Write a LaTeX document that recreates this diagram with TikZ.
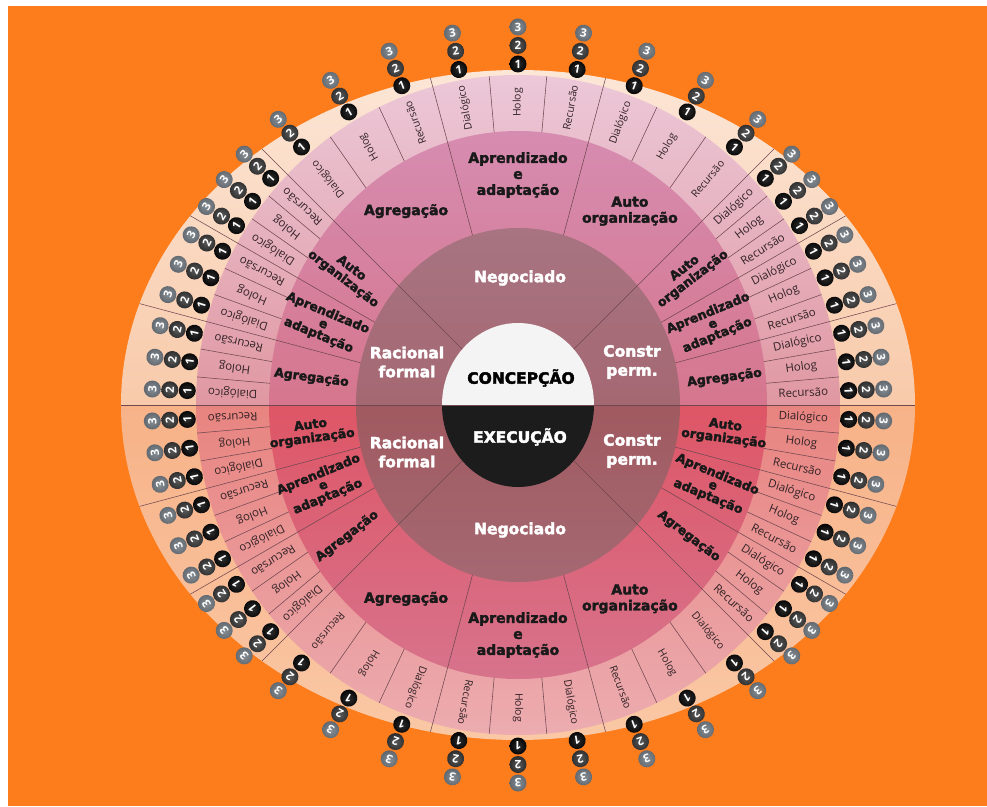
\documentclass[tikz,border=0pt]{standalone}
\usepackage{fontspec}
\newfontfamily\labfont{Open Sans}
\newfontfamily\heavyfont{DejaVu Sans}[BoldFeatures={FakeBold=2.5}]
\definecolor{bgorange}{RGB}{253,125,28}
\definecolor{creamtop}{RGB}{252,230,214}
\definecolor{creamside}{RGB}{248,202,170}
\definecolor{creamlow}{RGB}{247,178,136}
\definecolor{creambot}{RGB}{250,200,165}
\definecolor{labtop}{RGB}{236,200,216}
\definecolor{labside}{RGB}{224,152,162}
\definecolor{lablow}{RGB}{232,132,128}
\definecolor{labbot}{RGB}{236,172,176}
\definecolor{midtop}{RGB}{214,140,176}
\definecolor{midside}{RGB}{214,118,142}
\definecolor{midlow}{RGB}{222,86,102}
\definecolor{midbot}{RGB}{215,115,140}
\definecolor{inntop}{RGB}{168,116,130}
\definecolor{innside}{RGB}{164,104,114}
\definecolor{innlow}{RGB}{160,90,96}
\definecolor{innbot}{RGB}{165,104,114}
\definecolor{discwhite}{RGB}{244,244,244}
\definecolor{discblack}{RGB}{28,28,28}
\definecolor{sepline}{RGB}{112,72,80}
\definecolor{labtext}{RGB}{50,34,38}
\definecolor{bin1}{RGB}{45,45,45}
\definecolor{bout1}{RGB}{5,5,5}
\definecolor{bin2}{RGB}{90,90,90}
\definecolor{bout2}{RGB}{45,45,45}
\definecolor{bin3}{RGB}{135,142,148}
\definecolor{bout3}{RGB}{96,103,110}
\begin{document}
\begin{tikzpicture}[x=100pt,y=100pt,
  declare function={er(\ang,\rx,\ry)=\rx*\ry/sqrt((\ry*cos(\ang))^2+(\rx*sin(\ang))^2);},
  sep/.style={draw=sepline,line width=0.55pt},
  badge/.style={circle,minimum size=17pt,inner sep=0pt,text=white,
    font=\labfont\bfseries\fontsize{11.5}{11.5}\selectfont},
  innerlab/.style={text=white,align=center,inner sep=0pt,
    font=\heavyfont\bfseries\fontsize{15.5}{19}\selectfont}]
\useasboundingbox (-5.18,-4.01) rectangle (4.69,4.05);
\fill[white] (-5.18,-4.01) rectangle (4.69,4.05);
\fill[bgorange] (-5.10,-4.01) rectangle (4.69,3.99);
% cream ellipse
\shade[top color=creamtop,bottom color=creamside] (3.97,0) arc[start angle=0,end angle=180,x radius=3.97,y radius=3.35] -- cycle;
\shade[top color=creamlow,bottom color=creambot] (3.97,0) arc[start angle=0,end angle=-180,x radius=3.97,y radius=3.35] -- cycle;
% label ring
\shade[top color=labtop,bottom color=labside] (3.22,0) arc[start angle=0,end angle=180,x radius=3.22,y radius=3.30] -- cycle;
\shade[top color=lablow,bottom color=labbot] (3.22,0) arc[start angle=0,end angle=-180,x radius=3.22,y radius=3.30] -- cycle;
% middle ring
\shade[top color=midtop,bottom color=midside] (2.49,0) arc[start angle=0,end angle=180,x radius=2.49,y radius=2.74] -- cycle;
\shade[top color=midlow,bottom color=midbot] (2.49,0) arc[start angle=0,end angle=-180,x radius=2.49,y radius=2.74] -- cycle;
% inner ring
\shade[top color=inntop,bottom color=innside] (1.62,0) arc[start angle=0,end angle=180,x radius=1.62,y radius=1.77] -- cycle;
\shade[top color=innlow,bottom color=innbot] (1.62,0) arc[start angle=0,end angle=-180,x radius=1.62,y radius=1.77] -- cycle;
% centre disc
\fill[discwhite] (0.76,0) arc[start angle=0,end angle=180,x radius=0.76,y radius=0.82] -- cycle;
\fill[discblack] (0.76,0) arc[start angle=0,end angle=-180,x radius=0.76,y radius=0.82] -- cycle;
% separators
\draw[sep] (-3.97,0) -- (3.97,0);
\foreach \a in {45,135,225,315}{
  \pgfmathsetmacro\ri{er(\a,0.76,0.82)}
  \pgfmathsetmacro\ro{er(\a,3.97,3.35)}
  \draw[sep] (\a:\ri) -- (\a:\ro);
}
\foreach \a in {15,30,75,105,150,165,195,210,255,285,330,345}{
  \pgfmathsetmacro\ri{er(\a,1.62,1.77)}
  \pgfmathsetmacro\ro{er(\a,3.97,3.35)}
  \draw[sep] (\a:\ri) -- (\a:\ro);
}
\foreach \a in {5,10,20,25,35,40,55,65,85,95,115,125,140,145,155,160,170,175,185,190,200,205,215,220,235,245,265,275,295,305,320,325,335,340,350,355}{
  \pgfmathsetmacro\ri{er(\a,2.49,2.74)}
  \pgfmathsetmacro\ro{er(\a,3.22,3.30)}
  \draw[sep] (\a:\ri) -- (\a:\ro);
}
% outer labels and badges
\foreach \s/\d [count=\g] in {135/10,45/5,0/5,315/10,225/5,180/5}{
  \foreach \k in {0,...,8}{
    \pgfmathsetmacro\ang{\s-\d/2-\k*\d}
    \pgfmathsetmacro\rl{er(\ang,2.855,3.025)}
    \pgfmathtruncatemacro\m{mod(\k,3)}
    \ifcase\m \def\txt{Dialógico}\or \def\txt{Holog}\or \def\txt{Recursão}\fi
    \ifnum\d=10 \def\fs{10.5}\else \def\fs{11.5}\fi
    \node[text=labtext,inner sep=0pt,rotate=\ang,font=\labfont\fontsize{\fs}{\fs}\selectfont] (lab-\g-\k) at (\ang:\rl) {\txt};
    \foreach \n in {1,2,3}{
      \pgfmathsetmacro\rb{er(\ang,3.31+0.175*(\n-1),3.41+0.185*(\n-1))}
      \pgfmathsetmacro\rot{\ang-90}
      \node[badge,inner color=bin\n,outer color=bout\n,rotate=\rot] (bd-\g-\k-\n) at (\ang:\rb) {\n};
    }
  }
}
% middle ring labels
\foreach \ang/\txt/\rot/\fs/\bs [count=\i] in {
  120/{Agregação}/0/14/16, 90/{Aprendizado\\e\\adaptação}/0/14/16, 60/{Auto\\organização}/0/14/16,
  37.5/{Auto\\organização}/37.5/12.5/13.5, 22.5/{Aprendizado\\e\\adaptação}/22.5/12.5/12, 7.5/{Agregação}/7.5/12.5/13.5,
  -7.5/{Auto\\organização}/-7.5/12.5/13.5, -22.5/{Aprendizado\\e\\adaptação}/-22.5/12.5/12, -37.5/{Agregação}/-37.5/12.5/13.5,
  300/{Auto\\organização}/0/14/16, 270/{Aprendizado\\e\\adaptação}/0/14/16, 240/{Agregação}/0/14/16,
  217.5/{Agregação}/37.5/12.5/13.5, 202.5/{Aprendizado\\e\\adaptação}/22.5/12.5/12, 187.5/{Auto\\organização}/7.5/12.5/13.5,
  172.5/{Agregação}/-7.5/12.5/13.5, 157.5/{Aprendizado\\e\\adaptação}/-22.5/12.5/12, 142.5/{Auto\\organização}/-37.5/12.5/13.5}{
  \pgfmathsetmacro\rm{er(\ang,2.08,2.30)}
  \node[text=black!90,align=center,inner sep=0pt,rotate=\rot,
        font=\heavyfont\bfseries\fontsize{\fs}{\bs}\selectfont] (mid-\i) at (\ang:\rm) {\txt};
}
% inner ring labels
\node[innerlab] (neg-top) at (0.02,1.27) {Negociado};
\node[innerlab] (neg-bot) at (0.02,-1.25) {Negociado};
\node[innerlab] (rac-top) at (-1.11,0.43) {Racional\\formal};
\node[innerlab] (rac-bot) at (-1.11,-0.47) {Racional\\formal};
\node[innerlab] (con-top) at (1.14,0.43) {Constr\\perm.};
\node[innerlab] (con-bot) at (1.14,-0.46) {Constr\\perm.};
\node[innerlab,text=black] (concepcao) at (0.03,0.27) {CONCEPÇÃO};
\node[innerlab] (execucao) at (0.02,-0.32) {EXECUÇÃO};
\end{tikzpicture}
\end{document}
